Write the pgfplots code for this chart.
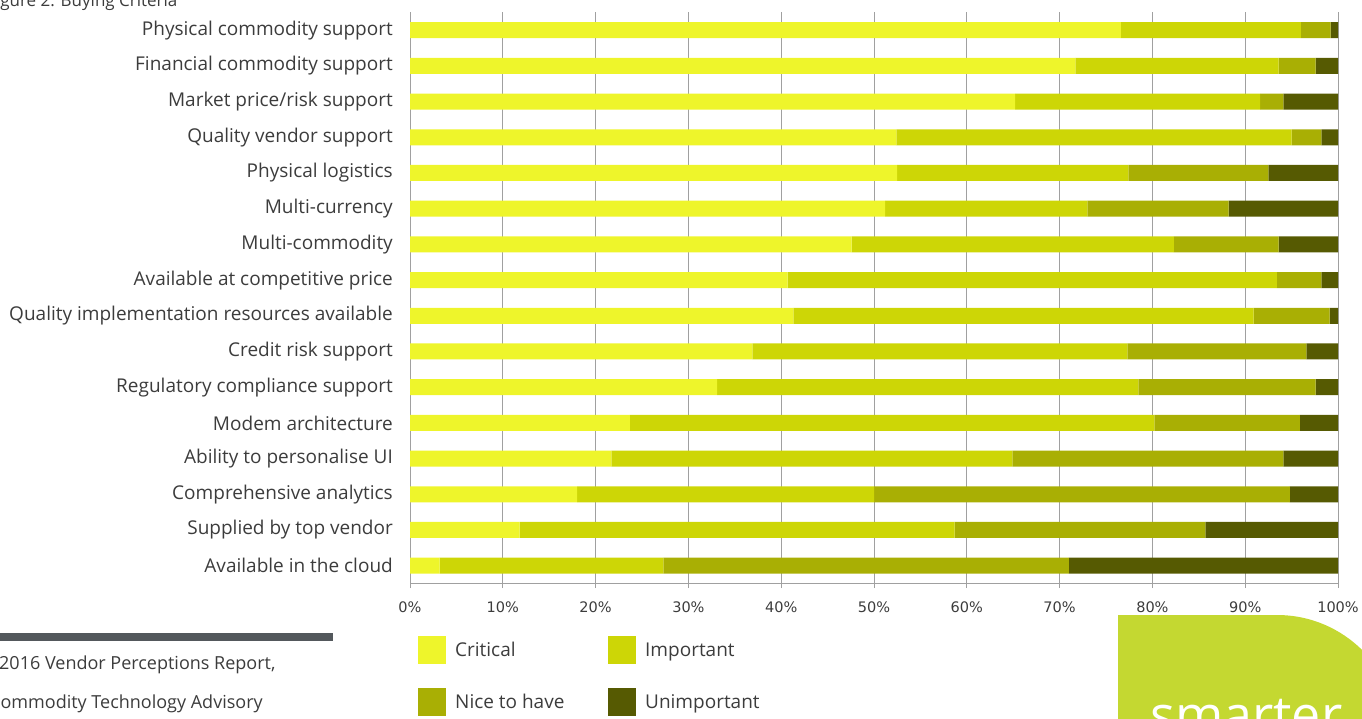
\documentclass[border=0pt]{standalone}
\usepackage{pgfplots}
\pgfplotsset{compat=1.18}
\usepackage{pgfplotstable}
\usepackage{fontspec}
\setmainfont{Open Sans}
\newfontfamily\tickfont{DejaVu Sans}
\definecolor{cCrit}{HTML}{EEF52B}
\definecolor{cImp}{HTML}{CDD606}
\definecolor{cNice}{HTML}{A9AF04}
\definecolor{cUnimp}{HTML}{565A02}
\definecolor{cText}{HTML}{3C3C3C}
\definecolor{cGrid}{HTML}{A0A0A0}
\definecolor{cBar}{HTML}{53585C}
\definecolor{cLogo}{HTML}{C4D831}

\pgfplotstableread{
y C I N U
0 3.2 24.1 43.7 29.0
1 11.8 46.9 27.0 14.3
2 18.0 32.0 44.8 5.2
3 21.7 43.2 29.2 5.9
4 23.7 56.5 15.7 4.1
5 33.1 45.4 19.1 2.4
6 36.9 40.4 19.3 3.4
7 41.3 49.6 8.2 0.9
8 40.7 52.7 4.8 1.8
9 47.6 34.7 11.3 6.4
10 51.2 21.8 15.2 11.8
11 52.5 24.9 15.1 7.5
12 52.4 42.6 3.2 1.8
13 65.2 26.4 2.5 5.9
14 71.7 21.9 4.0 2.4
15 76.6 19.4 3.2 0.8
}\data

\pgfplotsset{sqleg/.style={legend image code/.code={\fill[##1,draw=none] (0pt,-14pt) rectangle (28pt,14pt);}}}

\begin{document}
\begin{tikzpicture}
\useasboundingbox (0,0) rectangle (1362pt,718pt);
% logo shape
\fill[cLogo] (1118pt,-20pt) -- (1118pt,103pt) -- (1277pt,103pt) arc[start angle=90,end angle=0,radius=121pt] -- (1398pt,-20pt) -- cycle;
\node[white, font=\fontsize{52}{52}\selectfont, anchor=base west, inner sep=0pt] at (1150pt,-15pt) {smarter};
% footnote
\fill[cBar] (0pt,77pt) rectangle (333pt,85pt);
\node[anchor=base west, inner sep=0pt, text=cText, font=\fontsize{18}{18}\selectfont] at (-1pt,49pt) {2016 Vendor Perceptions Report,};
\node[anchor=base west, inner sep=0pt, text=cText, font=\fontsize{18}{18}\selectfont] at (-11pt,10pt) {Commodity Technology Advisory};
% title
\node[anchor=base west, inner sep=0pt, text=cText, font=\fontsize{17}{17}\selectfont] at (-13pt,711pt) {Figure 2: Buying Criteria};

\begin{axis}[
  at={(410pt,135pt)}, anchor=south west,
  scale only axis, width=928pt, height=571.3pt,
  xbar stacked, bar width=16pt,
  xmin=0, xmax=100, ymin=-0.485, ymax=15.518,
  axis x line*=bottom, axis y line*=left,
  axis line style={draw=cGrid, line width=0.8pt, -},
  xmajorgrids, grid style={draw=cGrid, line width=0.8pt},
  tick align=outside, major tick length=5pt,
  xtick style={draw=cGrid, line width=0.8pt},
  ytick style={draw=none},
  xtick={0,10,...,100},
  xticklabels={0\%,10\%,20\%,30\%,40\%,50\%,60\%,70\%,80\%,90\%,100\%},
  xticklabel style={font=\tickfont\fontsize{14.5}{15}\selectfont, text=cText, inner sep=0pt},
  xticklabel shift=14pt,
  ytick={0,...,15},
  yticklabels={Available in the cloud,Supplied by top vendor,Comprehensive analytics,Ability to personalise UI,Modem architecture,Regulatory compliance support,Credit risk support,Quality implementation resources available,Available at competitive price,Multi-commodity,Multi-currency,Physical logistics,Quality vendor support,Market price/risk support,Financial commodity support,Physical commodity support},
  yticklabel style={font=\fontsize{19}{19}\selectfont, text=cText, inner sep=0pt},
  yticklabel shift=12pt,
  legend columns=2,
  legend cell align=left,
  legend style={at={(0.0086,-0.0928)}, anchor=north west, draw=none, fill=none, inner sep=0pt,
    font=\fontsize{19}{19}\selectfont, text=cText, row sep=24pt,
    nodes={inner sep=0pt},
    /tikz/every odd column/.append style={column sep=9pt}},
]
\addplot[fill=cCrit, draw=none, sqleg] table[x=C, y=y] {\data};
\addplot[fill=cImp, draw=none, sqleg] table[x=I, y=y] {\data};
\addplot[fill=cNice, draw=none, sqleg] table[x=N, y=y] {\data};
\addplot[fill=cUnimp, draw=none, sqleg] table[x=U, y=y] {\data};
\legend{\makebox[153pt][l]{Critical},\makebox[153pt][l]{Important},Nice to have,Unimportant}
\end{axis}
\end{tikzpicture}
\end{document}
